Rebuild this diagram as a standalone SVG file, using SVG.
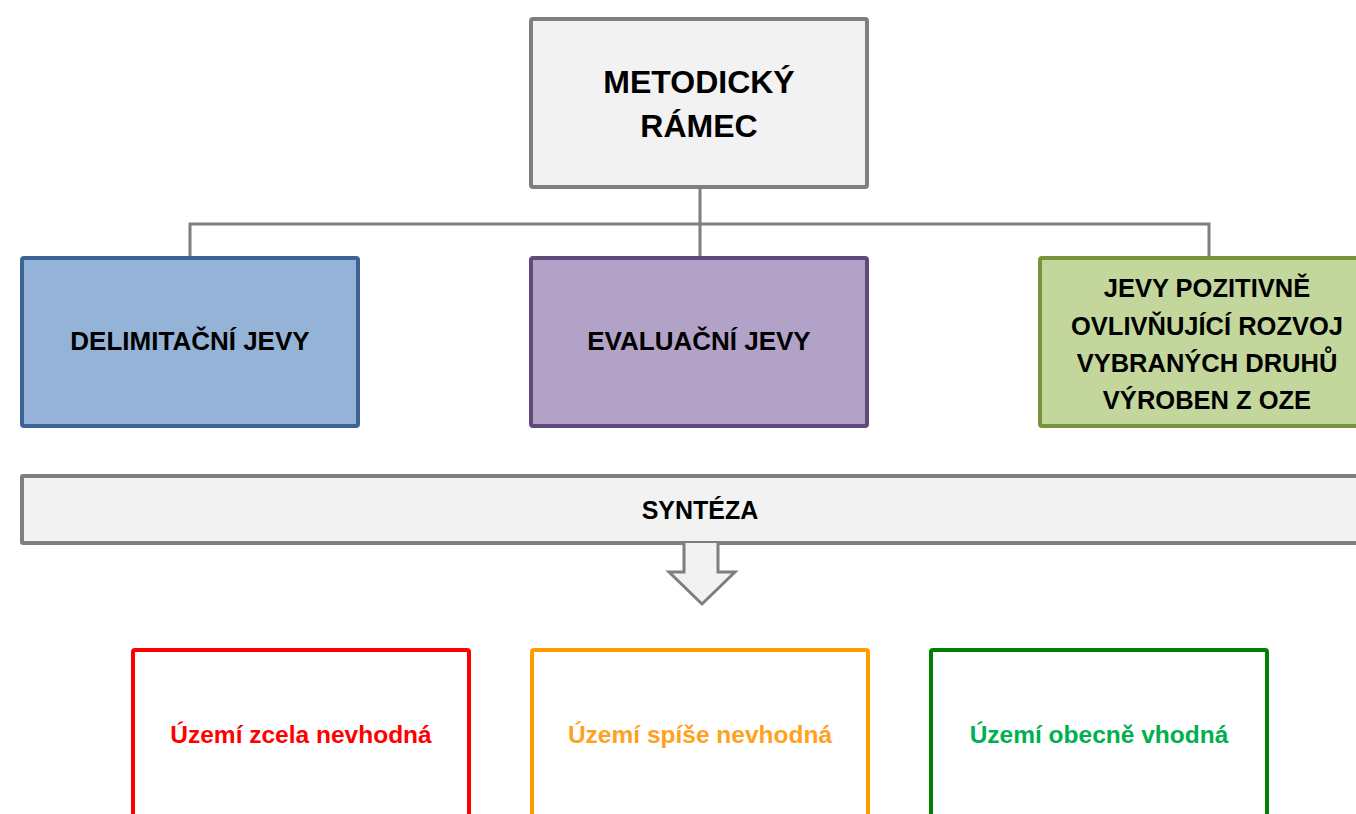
<svg xmlns="http://www.w3.org/2000/svg" width="1356" height="814" viewBox="0 0 1356 814">
<style>
text{font-family:"Liberation Sans",Arial,sans-serif;font-weight:bold;text-anchor:middle}
.dark{fill:#000}
.gray{fill:#f2f2f2;stroke:#7f7f7f;stroke-width:4}
.conn{fill:none;stroke:#7f7f7f;stroke-width:3}
.res{fill:#fff;stroke-width:4}
</style>
<rect width="1356" height="814" fill="#fff"/>
<g id="connectors">
<path class="conn" d="M700 187V258M190 258V224H1209V258"/>
</g>
<g id="metodicky">
<rect class="gray" x="531" y="19" width="336" height="168" rx="2"/>
<text class="dark" x="699" y="93" font-size="32">METODICKÝ</text>
<text class="dark" x="699" y="137" font-size="32">RÁMEC</text>
</g>
<g id="delimitacni">
<rect x="22" y="258" width="336" height="168" rx="2" fill="#95b3d7" stroke="#3d6394" stroke-width="4"/>
<text class="dark" x="190" y="350" font-size="26">DELIMITAČNÍ JEVY</text>
</g>
<g id="evaluacni">
<rect x="531" y="258" width="336" height="168" rx="2" fill="#b3a2c7" stroke="#604a7b" stroke-width="4"/>
<text class="dark" x="699" y="350" font-size="26">EVALUAČNÍ JEVY</text>
</g>
<g id="pozitivne">
<rect x="1040" y="258" width="330" height="168" rx="2" fill="#c3d69b" stroke="#77933c" stroke-width="4"/>
<text class="dark" x="1207" y="297" font-size="25.5">JEVY POZITIVNĚ</text>
<text class="dark" x="1207" y="335" font-size="25.5">OVLIVŇUJÍCÍ ROZVOJ</text>
<text class="dark" x="1207" y="372" font-size="25.5">VYBRANÝCH DRUHŮ</text>
<text class="dark" x="1207" y="409" font-size="25.5">VÝROBEN Z OZE</text>
</g>
<g id="synteza">
<rect class="gray" x="22" y="476" width="1350" height="67" rx="1"/>
<text class="dark" x="700" y="519" font-size="25">SYNTÉZA</text>
<path d="M684 543V572H669L702 604L735 572H718V543" fill="#f2f2f2" stroke="#7f7f7f" stroke-width="3" stroke-linejoin="miter"/>
</g>
<g id="zcela">
<rect class="res" x="133" y="650" width="336" height="180" rx="2" stroke="#ff0000"/>
<text x="301" y="743" font-size="24.5" fill="#ff0000">Území zcela nevhodná</text>
</g>
<g id="spise">
<rect class="res" x="532" y="650" width="336" height="180" rx="2" stroke="#ff9a00"/>
<text x="700" y="743" font-size="24.5" fill="#ffa21f">Území spíše nevhodná</text>
</g>
<g id="obecne">
<rect class="res" x="931" y="650" width="336" height="180" rx="2" stroke="#008000"/>
<text x="1099" y="743" font-size="24.5" fill="#00b050">Území obecně vhodná</text>
</g>
</svg>
